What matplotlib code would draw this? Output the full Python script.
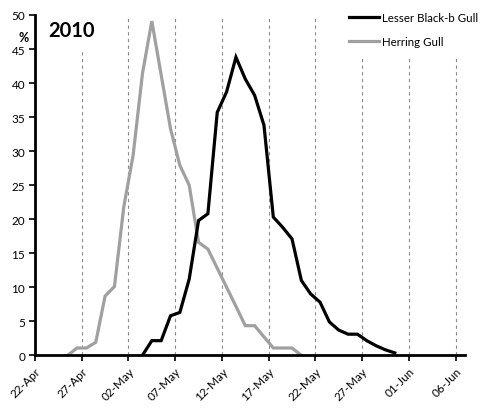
import numpy as np
import matplotlib
matplotlib.use("Agg")
import matplotlib.pyplot as plt
import matplotlib.dates as mdates

plt.rcParams['font.family'] = ['Lato', 'DejaVu Sans']

# daily percentages, 2010
lbbg_start = '2010-05-03'
lbbg = [0, 2.15, 2.15, 5.8, 6.3, 11.2, 19.8, 20.8, 35.7, 38.7, 43.8, 40.6, 38.2,
        33.8, 20.3, 18.8, 17.1, 11.0, 9.0, 7.8, 4.9, 3.7, 3.1, 3.1, 2.15, 1.4,
        0.8, 0.35]
herring_start = '2010-04-25'
herring = [0, 1.07, 1.07, 1.9, 8.7, 10.1, 21.8, 29.4, 41.4, 49.1, 41.2, 33.3,
           27.9, 25.0, 16.6, 15.6, 12.8, 10.0, 7.2, 4.35, 4.35, 2.7, 1.07, 1.07,
           1.07, 0]
labels = ['Lesser Black-b Gull', 'Herring Gull']
axis_start = '2010-04-22'
axis_end = '2010-06-07'


def day_positions(start, n):
    # each daily value sits in the middle of its day
    d = np.datetime64(start) + np.arange(n) + np.timedelta64(12, 'h')
    return mdates.date2num(d)


fig = plt.figure(figsize=(4.88, 4.10), dpi=100)
ax = fig.add_axes([0.0717, 0.131, 0.881, 0.830])

ax.plot(day_positions(lbbg_start, len(lbbg)), lbbg, color='black', lw=2.3,
        label=labels[0], zorder=4, solid_joinstyle='miter')
ax.plot(day_positions(herring_start, len(herring)), herring, color='#a0a0a0',
        lw=2.3, label=labels[1], zorder=3, solid_joinstyle='miter')

ax.set_xlim(mdates.date2num(np.datetime64(axis_start)),
            mdates.date2num(np.datetime64(axis_end)))
ax.set_ylim(0, 50)

ticks = mdates.date2num(np.arange(np.datetime64(axis_start),
                                  np.datetime64(axis_end), 5))
ax.set_xticks(ticks)
ax.xaxis.set_major_formatter(mdates.DateFormatter('%d-%b'))
ax.set_yticks(np.arange(0, 51, 5))
for lab in ax.get_xticklabels():
    lab.set_rotation(45)
    lab.set_ha('right')
    lab.set_rotation_mode('anchor')
ax.tick_params(axis='both', labelsize=8.5, length=4, width=1.2, colors='black')
ax.tick_params(axis='x', pad=3)
ax.tick_params(axis='y', pad=3)

ax.xaxis.grid(True, linestyle=(0, (3, 3)), color='#8c8c8c', lw=0.8)
ax.set_axisbelow(True)

for s in ['top', 'right']:
    ax.spines[s].set_visible(False)
for s in ['left', 'bottom']:
    ax.spines[s].set_linewidth(2)
ax.spines['bottom'].set_zorder(5)

ax.text(-0.015, 0.935, '%', transform=ax.transAxes, ha='right', va='center',
        fontsize=9, fontweight='bold')
ax.text(0.03, 0.955, '2010', transform=ax.transAxes, ha='left', va='center',
        fontsize=14.5, fontweight='bold', zorder=6,
        bbox=dict(facecolor='white', edgecolor='none', pad=8))

leg = ax.legend(loc='upper left', bbox_to_anchor=(0.693, 0.993),
                bbox_transform=fig.transFigure, fontsize=8.3, frameon=True,
                fancybox=False, edgecolor='none', facecolor='white',
                framealpha=1, handlelength=2.6, handletextpad=0.3,
                labelspacing=1.1, borderpad=0.9, borderaxespad=0)
leg.set_zorder(6)

fig.savefig('out.png', dpi=100)
